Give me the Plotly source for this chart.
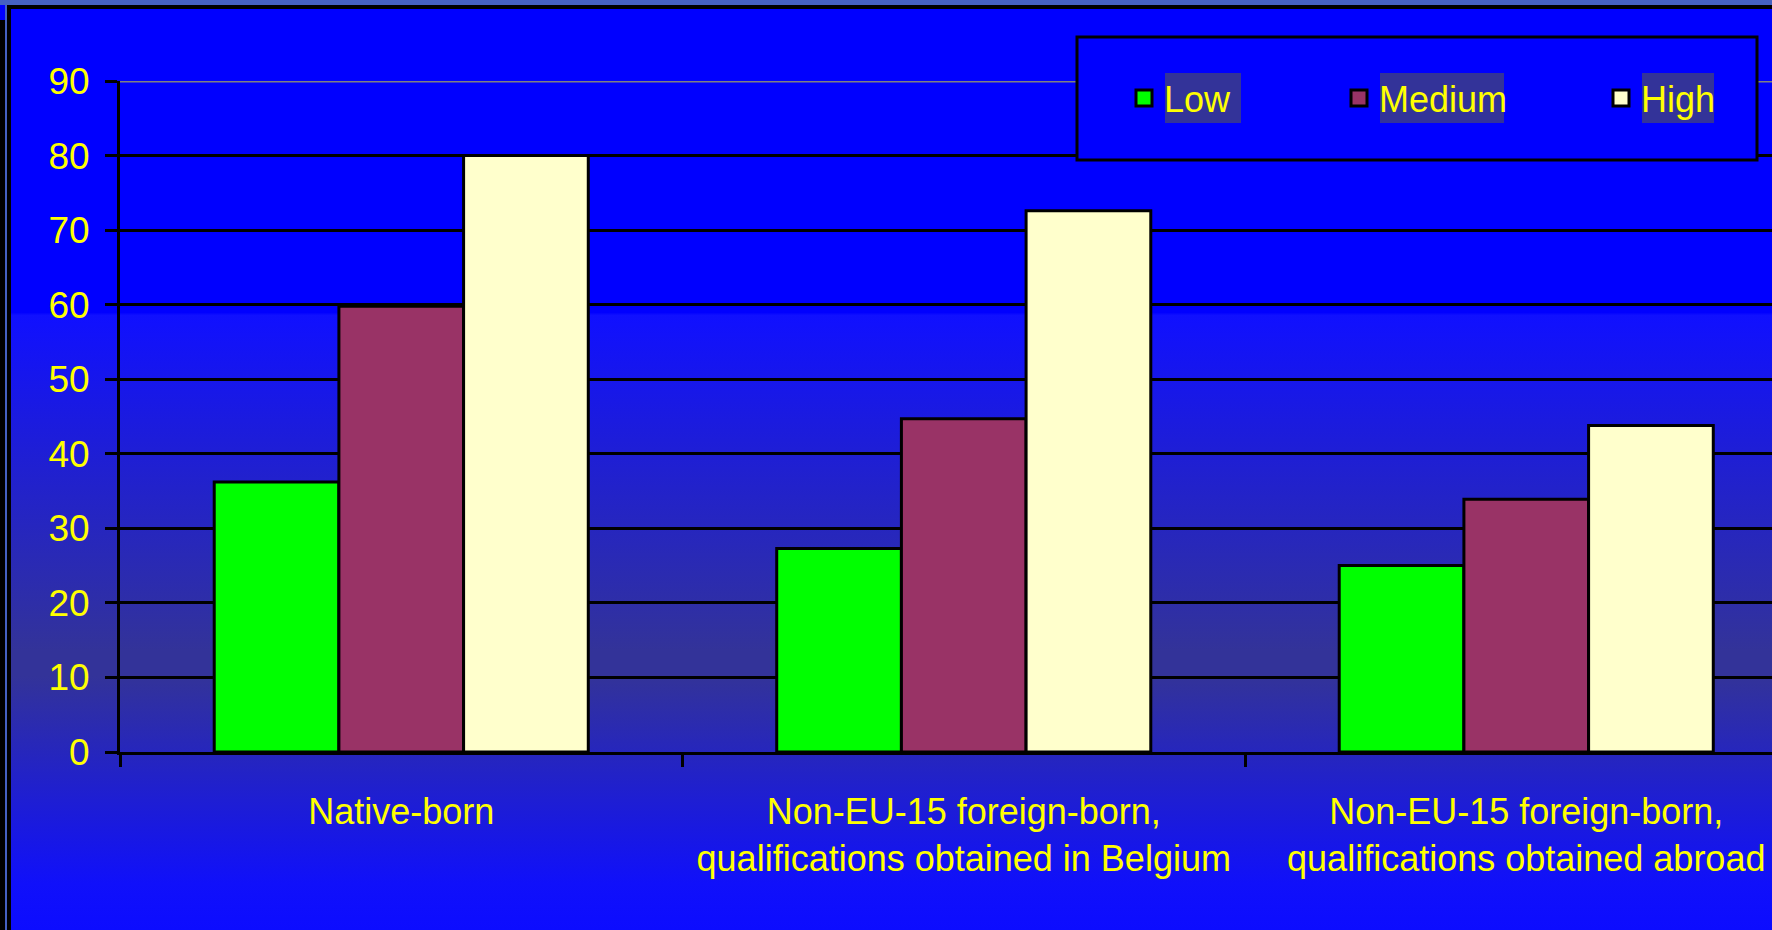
import base64
import plotly.graph_objects as go

# ---------------- data ----------------
categories = [
    "Native-born",
    "Non-EU-15 foreign-born,<br>qualifications obtained in Belgium",
    "Non-EU-15 foreign-born,<br>qualifications obtained abroad",
]
series_names = ["Low", "Medium", "High"]
low_values = [36.2, 27.3, 25.0]
medium_values = [59.8, 44.7, 33.9]
high_values = [80.0, 72.6, 43.8]
y_ticks = [0, 10, 20, 30, 40, 50, 60, 70, 80, 90]

# ---------------- layout geometry (pixels) ----------------
FW, FH = 1772, 930
L, R, T, B = 120, 0, 81, 178
PW, PH = FW - L - R, FH - T - B
BOTTOM = FH - B


def px(X):
    return (X - L) / PW


def py(Y):
    return (BOTTOM - Y) / PH


colors = ["#00FF00", "#993366", "#FFFFCC"]
values = [low_values, medium_values, high_values]
yellow = "#FFFF00"
font_family = "Liberation Sans, Arial, sans-serif"

fig = go.Figure()
for name, vals, col in zip(series_names, values, colors):
    fig.add_trace(go.Bar(
        x=categories, y=vals, name=name, showlegend=False,
        marker=dict(color=col, line=dict(color="black", width=3)),
    ))

legend_ids = ["legend", "legend2", "legend3"]
for name, col, lid in zip(series_names, colors, legend_ids):
    fig.add_trace(go.Scatter(
        x=[None], y=[None], mode="markers", name=name, legend=lid,
        marker=dict(symbol="square", size=16, color=col,
                    line=dict(color="black", width=3)),
    ))

# background gradient as an SVG image
svg = (
    f'<svg xmlns="http://www.w3.org/2000/svg" width="{FW}" height="{FH}" '
    f'preserveAspectRatio="none"><defs><linearGradient id="g" x1="0" y1="0" x2="0" y2="1">'
    '<stop offset="0" stop-color="#0000FF"/>'
    '<stop offset="0.336" stop-color="#0000FF"/>'
    '<stop offset="0.339" stop-color="#1010FF"/>'
    '<stop offset="0.70" stop-color="#333399"/>'
    '<stop offset="0.727" stop-color="#333399"/>'
    '<stop offset="0.95" stop-color="#1010FA"/>'
    '<stop offset="1" stop-color="#0C0CFF"/>'
    '</linearGradient></defs>'
    f'<rect width="{FW}" height="{FH}" fill="url(#g)"/></svg>'
)
svg_uri = "data:image/svg+xml;base64," + base64.b64encode(svg.encode()).decode()

shapes = []
# gray line at 90
shapes.append(dict(type="line", xref="paper", yref="y", x0=0, x1=1.0, y0=90, y1=90,
                   line=dict(color="#808080", width=3), layer="above"))
# legend box
shapes.append(dict(type="rect", xref="paper", yref="paper",
                   x0=px(1077), x1=px(1757), y0=py(37), y1=py(160),
                   fillcolor="#0000FF", line=dict(color="black", width=3), layer="above"))
# legend text highlights
for x0, x1 in [(1165, 1241), (1380, 1504), (1642, 1714)]:
    shapes.append(dict(type="rect", xref="paper", yref="paper",
                       x0=px(x0), x1=px(x1), y0=py(73), y1=py(123),
                       fillcolor="#333399", line=dict(width=0), layer="above"))
# frame: top band and left border
shapes.append(dict(type="rect", xref="paper", yref="paper", x0=px(0), x1=px(FW),
                   y0=py(0), y1=py(5), fillcolor="#4561C2", line=dict(width=0), layer="above"))
shapes.append(dict(type="rect", xref="paper", yref="paper", x0=px(6), x1=px(FW),
                   y0=py(5), y1=py(9), fillcolor="black", line=dict(width=0), layer="above"))
shapes.append(dict(type="rect", xref="paper", yref="paper", x0=px(0), x1=px(5),
                   y0=py(20), y1=py(FH), fillcolor="black", line=dict(width=0), layer="above"))
shapes.append(dict(type="rect", xref="paper", yref="paper", x0=px(5), x1=px(7),
                   y0=py(5), y1=py(FH), fillcolor="#4561C2", line=dict(width=0), layer="above"))
shapes.append(dict(type="rect", xref="paper", yref="paper", x0=px(7), x1=px(11),
                   y0=py(5), y1=py(FH), fillcolor="black", line=dict(width=0), layer="above"))

legend_common = dict(
    xref="paper", yref="paper", xanchor="left", yanchor="middle",
    bgcolor="rgba(0,0,0,0)", borderwidth=0, orientation="h",
    font=dict(size=36, color=yellow, family=font_family),
)
legend_lefts = [1124, 1339, 1601]
legend_layout = {}
for lid, xl in zip(legend_ids, legend_lefts):
    legend_layout[lid] = dict(legend_common, x=px(xl), y=py(98))

fig.update_layout(
    width=FW, height=FH,
    margin=dict(l=L, r=R, t=T, b=B, pad=0, autoexpand=False),
    paper_bgcolor="#0000FF",
    plot_bgcolor="rgba(0,0,0,0)",
    barmode="group", bargap=0.335, bargroupgap=0,
    font=dict(family=font_family, color=yellow, size=36),
    images=[dict(source=svg_uri, xref="paper", yref="paper",
                 x=px(0), y=py(0), sizex=FW / PW, sizey=FH / PH,
                 xanchor="left", yanchor="top", sizing="stretch", layer="below")],
    shapes=shapes,
    xaxis=dict(
        range=[-0.5, -0.5 + PW / 562.5],
        showline=True, linecolor="black", linewidth=3,
        showgrid=False, zeroline=False, automargin=False,
        ticks="outside", tickson="boundaries", ticklen=12, tickwidth=3, tickcolor="black",
        tickfont=dict(size=36, color=yellow, family=font_family),
        ticklabelstandoff=26,
    ),
    yaxis=dict(
        range=[0, 90], tickvals=y_ticks, automargin=False,
        showline=True, linecolor="black", linewidth=3,
        showgrid=True, gridcolor="black", gridwidth=3, zeroline=False,
        ticks="outside", ticklen=12, tickwidth=3, tickcolor="black",
        tickfont=dict(size=37, color=yellow, family=font_family),
        ticklabelstandoff=8,
    ),
    **legend_layout,
)

fig.write_html(
    "out.html",
    config={"displayModeBar": False},
    post_script="document.body.style.margin='0';document.body.style.overflow='hidden';",
)
